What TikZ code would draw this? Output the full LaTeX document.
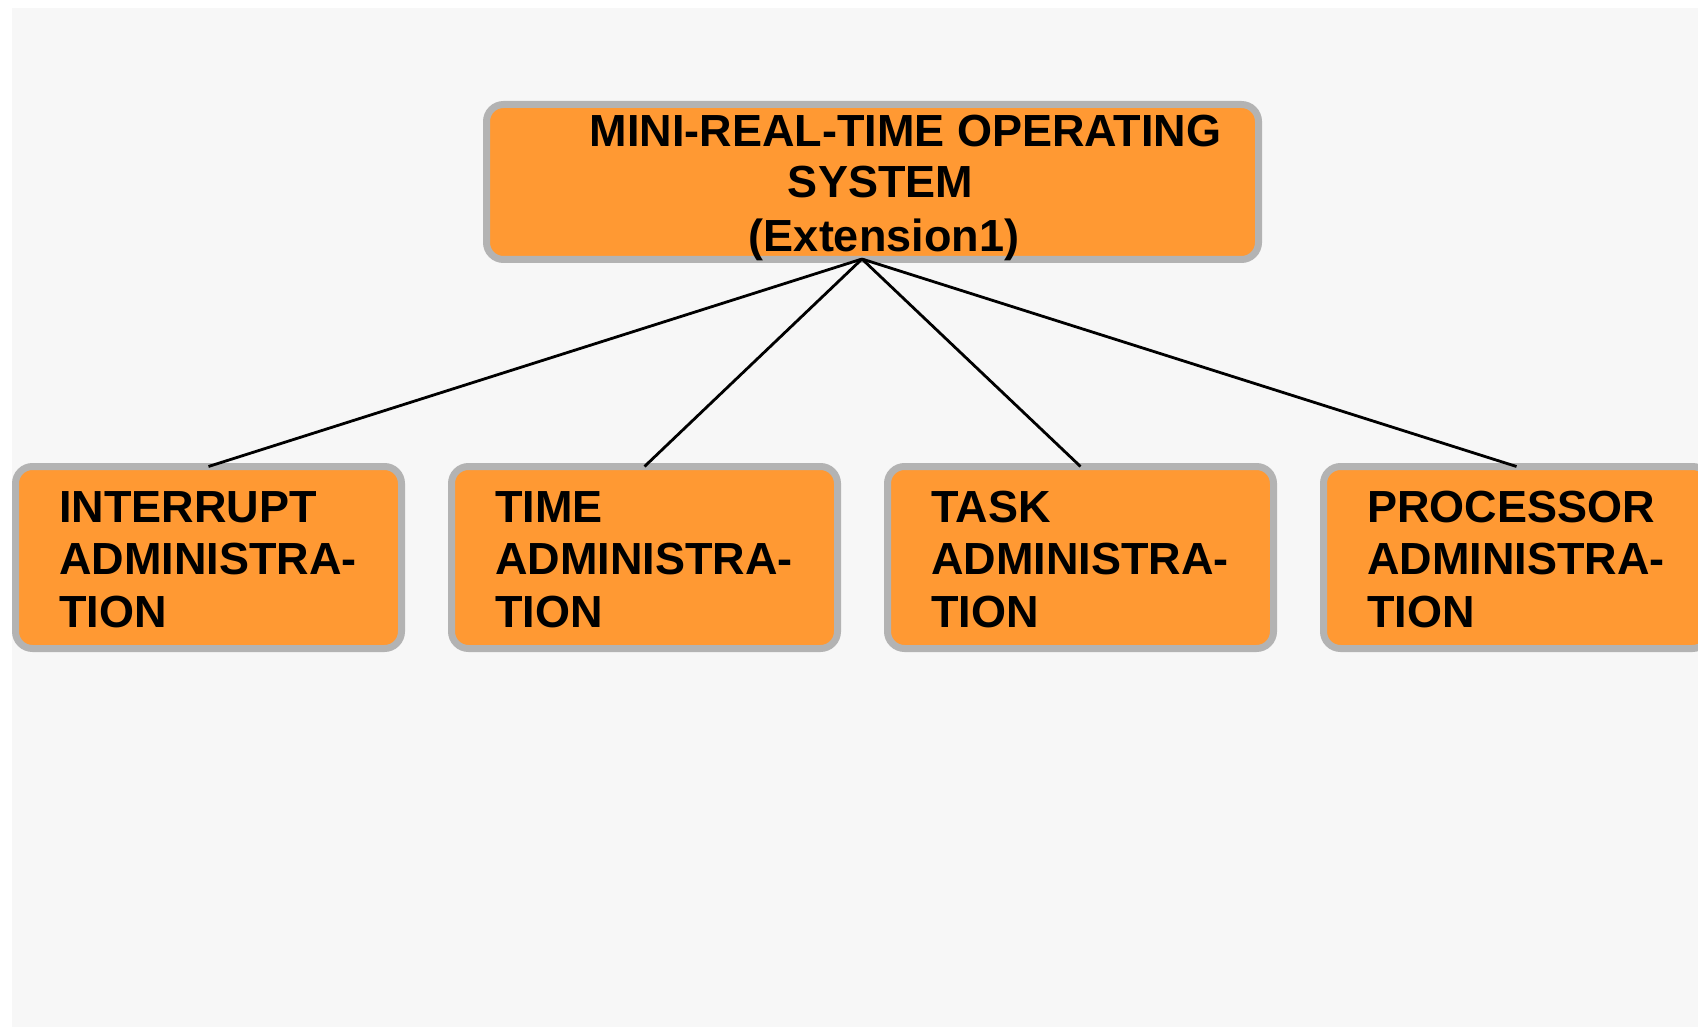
\documentclass[tikz,border=0pt]{standalone}
\usepackage{fontspec}
\setmainfont{Liberation Sans}
\definecolor{pagebg}{HTML}{F7F7F7}
\definecolor{boxorange}{HTML}{FF9933}
\definecolor{boxgray}{HTML}{B3B3B3}

\begin{document}
\begin{tikzpicture}[x=0.5pt,y=-0.5pt,
  card/.style={draw=boxgray, line width=3.5pt, fill=boxorange,
    rounded corners=8.5pt, inner sep=0pt, outer sep=0pt,
    minimum width=193pt, minimum height=91pt},
  cardtext/.style={font=\fontsize{22.5}{26.25}\selectfont\bfseries,
    align=left, anchor=base west, inner sep=0pt},
  titletext/.style={font=\fontsize{22.5}{26.25}\selectfont\bfseries,
    anchor=base, inner sep=0pt},
  link/.style={draw=black, line width=1.4pt}]

  % page and background panel
  \useasboundingbox (0,0) rectangle (1698,1027);
  \clip (0,0) rectangle (1698,1027);
  \fill[white] (0,0) rectangle (1698,1027);
  \fill[pagebg] (12,8) rectangle (1698,1027);

  % root box
  \node[card, minimum width=386pt, minimum height=77.5pt] (root) at (872.5,182) {};
  \node[titletext] (title1) at (905.5,147) {MINI-REAL-TIME OPERATING};
  \node[titletext] (title2) at (880.5,198) {SYSTEM};
  \node[titletext] (title3) at (884,252) {(Extension1)};
  \coordinate (hub) at (862,259);

  % child boxes
  \node[card] (card1) at (208.5,557.5) {};
  \node[card] (card2) at (644.5,557.5) {};
  \node[card] (card3) at (1080.5,557.5) {};
  \node[card] (card4) at (1516.5,557.5) {};

  % labels, anchored at the baseline of their last line
  \node[cardtext] (label1) at (59,627) {INTERRUPT\\ADMINISTRA-\\TION};
  \node[cardtext] (label2) at (495,627) {TIME\\ADMINISTRA-\\TION};
  \node[cardtext] (label3) at (931,627) {TASK\\ADMINISTRA-\\TION};
  \node[cardtext] (label4) at (1367,627) {PROCESSOR\\ADMINISTRA-\\TION};

  % connectors
  \draw[link] (hub) -- (card1.north);
  \draw[link] (hub) -- (card2.north);
  \draw[link] (hub) -- (card3.north);
  \draw[link] (hub) -- (card4.north);
\end{tikzpicture}
\end{document}
